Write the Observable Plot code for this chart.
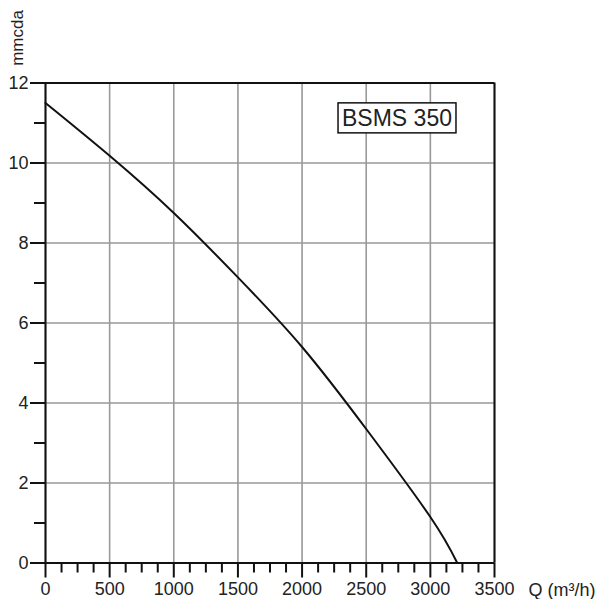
<!DOCTYPE html>
<html>
<head>
<meta charset="utf-8">
<script src="https://cdn.jsdelivr.net/npm/d3@7"></script>
<script src="https://cdn.jsdelivr.net/npm/@observablehq/plot@0.6"></script>
<style>
  html, body { margin: 0; padding: 0; background: #fff; }
  svg { display: block; }
</style>
</head>
<body>
<div id="chart"></div>
<script>
// Flow Q (m³/h) and head (mcda)
const flow = [0, 500, 1000, 1500, 2000, 2500, 3000, 3210];
const head = [11.5, 10.18, 8.75, 7.14, 5.4, 3.35, 1.15, 0.0];
const xMajorTicks = [0, 500, 1000, 1500, 2000, 2500, 3000, 3500];
const xMinorTicks = d3.range(0, 3501, 125).filter(v => v % 500 !== 0);
const yMajorTicks = [0, 2, 4, 6, 8, 10, 12];
const yMinorTicks = [1, 3, 5, 7, 9, 11];
const modelName = "BSMS 350";
const yLabel = "mmcda";
const xLabel = "Q (m³/h)";

const curve = flow.map((q, i) => ({q, h: head[i]}));
const font = "'Liberation Sans', Arial, sans-serif";

const chart = Plot.plot({
  width: 595,
  height: 599,
  marginLeft: 45,
  marginRight: 101,
  marginTop: 82.5,
  marginBottom: 36.5,
  style: {fontFamily: font, fontSize: "18px", color: "#222", background: "#fff"},
  x: {domain: [0, 3500]},
  y: {domain: [0, 12]},
  marks: [
    Plot.gridX(xMajorTicks, {stroke: "#999", strokeOpacity: 1, strokeWidth: 1.6}),
    Plot.gridY(yMajorTicks, {stroke: "#999", strokeOpacity: 1, strokeWidth: 1.6}),
    Plot.ruleX([0, 3500], {stroke: "#111", strokeWidth: 2}),
    Plot.ruleY([0, 12], {stroke: "#111", strokeWidth: 2}),
    Plot.axisX(xMajorTicks, {tickSize: 15, tickPadding: 4, tickFormat: d => String(d), stroke: "#111", strokeWidth: 2, label: null, fontSize: 18}),
    Plot.axisX(xMinorTicks, {tickSize: 10, tickFormat: () => "", stroke: "#111", strokeWidth: 2, label: null}),
    Plot.axisY(yMajorTicks, {tickSize: 15, tickPadding: 2, tickFormat: d => String(d), stroke: "#111", strokeWidth: 2, label: null, fontSize: 18}),
    Plot.axisY(yMinorTicks, {tickSize: 11, tickFormat: () => "", stroke: "#111", strokeWidth: 2, label: null}),
    Plot.line(curve, {x: "q", y: "h", curve: "natural", stroke: "#111", strokeWidth: 2}),
    Plot.text([yLabel], {frameAnchor: "top-left", dx: -28, dy: -45, rotate: -90, textAnchor: "middle", lineAnchor: "middle", fontSize: 17, fill: "#222"}),
    Plot.text([xLabel], {frameAnchor: "bottom-right", dx: 34, dy: 27, textAnchor: "start", lineAnchor: "middle", fontSize: 18, fill: "#222"}),
    Plot.text([modelName], {frameAnchor: "top-right", dx: -97.5, dy: 35.5, textAnchor: "middle", lineAnchor: "middle", fontSize: 23, fill: "#222", className: "model-label"})
  ]
});

document.getElementById("chart").appendChild(chart);

// Draw a box around the model label
const labelText = chart.querySelector(".model-label text");
if (labelText) {
  const bb = labelText.getBBox();
  const g = labelText.parentNode;
  const t = labelText.getAttribute("transform");
  const rect = document.createElementNS("http://www.w3.org/2000/svg", "rect");
  const padX = 4, padY = 3;
  rect.setAttribute("x", bb.x - padX);
  rect.setAttribute("y", bb.y - padY + 1);
  rect.setAttribute("width", bb.width + 2 * padX);
  rect.setAttribute("height", bb.height + 2 * padY - 2);
  rect.setAttribute("fill", "#fff");
  rect.setAttribute("stroke", "#111");
  rect.setAttribute("stroke-width", "1.5");
  if (t) rect.setAttribute("transform", t);
  g.insertBefore(rect, labelText);
}
</script>
</body>
</html>
